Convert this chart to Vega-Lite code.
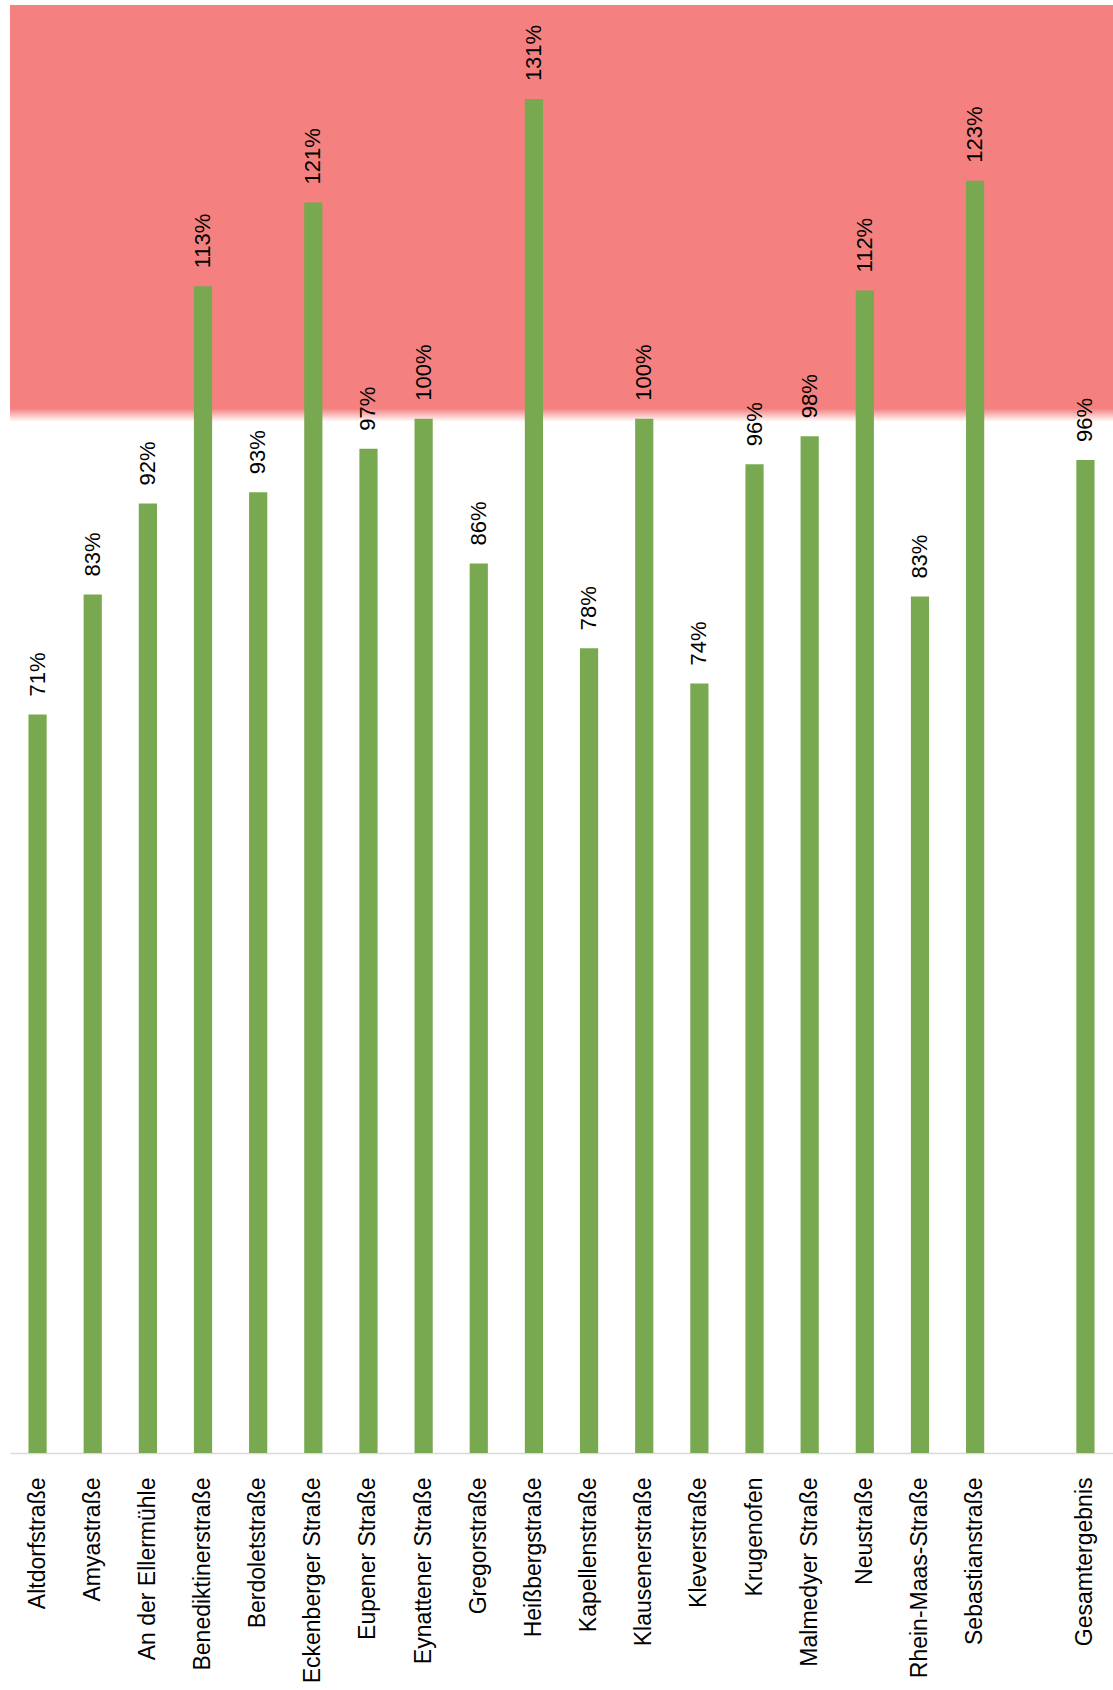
{
  "$schema": "https://vega.github.io/schema/vega-lite/v6.json",
  "autosize": {"type": "none"},
  "padding": {"left": 10, "top": 5, "right": 0, "bottom": 237},
  "width": 1103,
  "height": 1448,
  "background": "#ffffff",
  "config": {"view": {"stroke": null}, "font": "Liberation Sans"},
  "datasets": {
    "bars": [
      {"name": "Altdorfstraße", "value": 0.714},
      {"name": "Amyastraße", "value": 0.830},
      {"name": "An der Ellermühle", "value": 0.918},
      {"name": "Benediktinerstraße", "value": 1.128},
      {"name": "Berdoletstraße", "value": 0.929},
      {"name": "Eckenberger Straße", "value": 1.209},
      {"name": "Eupener Straße", "value": 0.971},
      {"name": "Eynattener Straße", "value": 1.0},
      {"name": "Gregorstraße", "value": 0.860},
      {"name": "Heißbergstraße", "value": 1.309},
      {"name": "Kapellenstraße", "value": 0.778},
      {"name": "Klausenerstraße", "value": 1.0},
      {"name": "Kleverstraße", "value": 0.744},
      {"name": "Krugenofen", "value": 0.956},
      {"name": "Malmedyer Straße", "value": 0.983},
      {"name": "Neustraße", "value": 1.124},
      {"name": "Rhein-Maas-Straße", "value": 0.828},
      {"name": "Sebastianstraße", "value": 1.230},
      {"name": "Gesamtergebnis", "value": 0.960}
    ],
    "band": [{"from": 0.997, "to": 1.4}]
  },
  "layer": [
    {
      "data": {"name": "band"},
      "mark": {
        "type": "rect",
        "color": {
          "gradient": "linear",
          "x1": 0, "y1": 0, "x2": 0, "y2": 1,
          "stops": [
            {"offset": 0, "color": "#F4817F"},
            {"offset": 0.968, "color": "#F4817F"},
            {"offset": 1, "color": "#ffffff"}
          ]
        }
      },
      "encoding": {
        "y": {"field": "from", "type": "quantitative", "scale": {"domain": [0, 1.4], "nice": false, "zero": true}, "axis": null},
        "y2": {"field": "to"}
      }
    },
    {
      "data": {"name": "bars"},
      "mark": {"type": "bar", "color": "#78A850"},
      "encoding": {
        "x": {
          "field": "name", "type": "nominal",
          "scale": {
            "domain": ["Altdorfstraße", "Amyastraße", "An der Ellermühle", "Benediktinerstraße", "Berdoletstraße", "Eckenberger Straße", "Eupener Straße", "Eynattener Straße", "Gregorstraße", "Heißbergstraße", "Kapellenstraße", "Klausenerstraße", "Kleverstraße", "Krugenofen", "Malmedyer Straße", "Neustraße", "Rhein-Maas-Straße", "Sebastianstraße", " ", "Gesamtergebnis"],
            "paddingInner": 0.67, "paddingOuter": 0.335
          },
          "axis": {
            "title": null,
            "labelAngle": 270,
            "labelAlign": "right",
            "labelBaseline": "middle",
            "labelFontSize": 23,
            "labelFont": "Liberation Sans",
            "labelColor": "#000000",
            "labelPadding": 24,
            "labelLimit": 0,
            "ticks": false,
            "domainColor": "#d9d9d9",
            "domainWidth": 1.5,
            "grid": false
          }
        },
        "y": {"field": "value", "type": "quantitative", "scale": {"domain": [0, 1.4], "nice": false, "zero": true}, "axis": null}
      }
    },
    {
      "data": {"name": "bars"},
      "mark": {"type": "text", "angle": 270, "align": "left", "baseline": "middle", "dx": 18, "fontSize": 22, "font": "Liberation Sans", "color": "#000000"},
      "encoding": {
        "x": {"field": "name", "type": "nominal"},
        "y": {"field": "value", "type": "quantitative"},
        "text": {"field": "value", "type": "quantitative", "format": ".0%"}
      }
    }
  ]
}
